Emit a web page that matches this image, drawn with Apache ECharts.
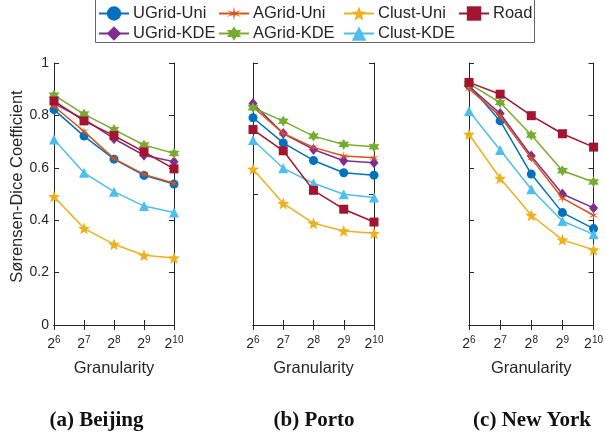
<!DOCTYPE html>
<html>
<head>
<meta charset="utf-8">
<script src="https://cdn.jsdelivr.net/npm/echarts@6/dist/echarts.min.js"></script>
<style>
html,body{margin:0;padding:0;background:#fff;}
#chart{width:606px;height:437px;}
</style>
</head>
<body>
<div id="chart"></div>
<script>
// ---------- data ----------
const categories = ['2^6', '2^7', '2^8', '2^9', '2^10'];
const seriesNames = ['UGrid-Uni', 'UGrid-KDE', 'AGrid-Uni', 'AGrid-KDE', 'Clust-Uni', 'Clust-KDE', 'Road'];
const panelTitles = ['(a) Beijing', '(b) Porto', '(c) New York'];
const yTickLabels = ['0', '0.2', '0.4', '0.6', '0.8', '1'];

// Beijing
const bjUGridUni = [0.822, 0.721, 0.633, 0.571, 0.538];
const bjUGridKDE = [0.845, 0.786, 0.711, 0.648, 0.623];
const bjAGridUni = [0.835, 0.739, 0.635, 0.575, 0.541];
const bjAGridKDE = [0.877, 0.805, 0.746, 0.687, 0.655];
const bjClustUni = [0.490, 0.369, 0.308, 0.266, 0.256];
const bjClustKDE = [0.708, 0.581, 0.509, 0.454, 0.429];
const bjRoad     = [0.855, 0.779, 0.723, 0.661, 0.596];

// Porto
const ptUGridUni = [0.791, 0.695, 0.628, 0.581, 0.572];
const ptUGridKDE = [0.845, 0.731, 0.670, 0.627, 0.619];
const ptAGridUni = [0.832, 0.731, 0.678, 0.645, 0.638];
const ptAGridKDE = [0.829, 0.778, 0.721, 0.689, 0.680];
const ptClustUni = [0.595, 0.464, 0.388, 0.359, 0.350];
const ptClustKDE = [0.706, 0.598, 0.541, 0.499, 0.487];
const ptRoad     = [0.746, 0.665, 0.514, 0.442, 0.393];

// New York
const nyUGridUni = [0.915, 0.779, 0.576, 0.429, 0.368];
const nyUGridKDE = [0.911, 0.807, 0.645, 0.500, 0.447];
const nyAGridUni = [0.902, 0.797, 0.636, 0.484, 0.419];
const nyAGridKDE = [0.921, 0.849, 0.725, 0.589, 0.546];
const nyClustUni = [0.728, 0.560, 0.419, 0.325, 0.287];
const nyClustKDE = [0.817, 0.668, 0.518, 0.397, 0.346];
const nyRoad     = [0.926, 0.881, 0.799, 0.730, 0.679];

const panelData = [
  [bjUGridUni, bjUGridKDE, bjAGridUni, bjAGridKDE, bjClustUni, bjClustKDE, bjRoad],
  [ptUGridUni, ptUGridKDE, ptAGridUni, ptAGridKDE, ptClustUni, ptClustKDE, ptRoad],
  [nyUGridUni, nyUGridKDE, nyAGridUni, nyAGridKDE, nyClustUni, nyClustKDE, nyRoad]
];

// ---------- styles ----------
function starPath(n, inner) {
  let d = '';
  for (let k = 0; k < 2 * n; k++) {
    const r = k % 2 === 0 ? 1 : inner;
    const a = -Math.PI / 2 + k * Math.PI / n;
    const x = (r * Math.cos(a)).toFixed(4), y = (r * Math.sin(a)).toFixed(4);
    d += (k === 0 ? 'M' : 'L') + x + ' ' + y + ' ';
  }
  return 'path://' + d + 'Z';
}
const colors = {
  'UGrid-Uni': '#0072BD', 'UGrid-KDE': '#7E2F8E', 'AGrid-Uni': '#D95319',
  'AGrid-KDE': '#77AC30', 'Clust-Uni': '#EDB120', 'Clust-KDE': '#4DBEEE', 'Road': '#A2142F'
};
const symbols = {
  'UGrid-Uni': ['circle', 9], 'UGrid-KDE': ['diamond', [9, 11]],
  'AGrid-Uni': [starPath(6, 0.22), 10], 'AGrid-KDE': [starPath(6, 0.55), 11],
  'Clust-Uni': [starPath(5, 0.42), 12], 'Clust-KDE': ['triangle', 10],
  'Road': ['rect', 9]
};
const grids = [
  { left: 54, top: 63, width: 120, height: 262 },
  { left: 253, top: 63, width: 121, height: 262 },
  { left: 469, top: 63, width: 126, height: 262 }
];
const yIntervals = [0.2, 0.5, 0.2];
const axisColor = '#262626';
const tickFont = 'Liberation Sans';

const xAxes = [], yAxes = [], series = [];
grids.forEach((g, i) => {
  const common = {
    gridIndex: i, type: 'category', data: categories, boundaryGap: false,
    axisLine: { lineStyle: { color: axisColor, width: 1 } },
    axisTick: { inside: true, length: 5, interval: 0, lineStyle: { color: axisColor } },
    splitLine: { show: false }
  };
  xAxes.push(Object.assign({}, common, {
    position: 'bottom',
    axisLabel: {
      margin: 10, interval: 0, hideOverlap: false,
      formatter: v => { const p = v.split('^'); return '{b|' + p[0] + '}{s|' + p[1] + '}'; },
      rich: {
        b: { fontSize: 14, fontFamily: tickFont, color: axisColor, lineHeight: 16, verticalAlign: 'bottom' },
        s: { fontSize: 10, fontFamily: tickFont, color: axisColor, lineHeight: 10, verticalAlign: 'top', padding: [0, 0, 10, 0] }
      }
    },
    name: 'Granularity', nameLocation: 'middle', nameGap: 33,
    nameTextStyle: { fontSize: 16.5, fontFamily: tickFont, color: axisColor }
  }));
  xAxes.push(Object.assign({}, common, { position: 'top', axisLabel: { show: false } }));
  const yCommon = {
    gridIndex: i, type: 'value', min: 0, max: 1, interval: yIntervals[i],
    axisLine: { show: true, lineStyle: { color: axisColor, width: 1 } },
    axisTick: { show: true, inside: true, length: 5, lineStyle: { color: axisColor } },
    splitLine: { show: false }
  };
  yAxes.push(Object.assign({}, yCommon, {
    position: 'left',
    axisLabel: {
      show: i === 0, margin: 5, fontSize: 14, fontFamily: tickFont, color: axisColor,
      formatter: v => yTickLabels[Math.round(v / 0.2)]
    },
    name: i === 0 ? 'Sørensen-Dice Coefficient' : '',
    nameLocation: 'middle', nameGap: 27,
    nameTextStyle: { fontSize: 16.5, fontFamily: tickFont, color: axisColor, padding: [0, 0, 0, 15] }
  }));
  yAxes.push(Object.assign({}, yCommon, { position: 'right', axisLabel: { show: false } }));

  seriesNames.forEach((name, k) => {
    series.push({
      name: name, type: 'line', xAxisIndex: 2 * i, yAxisIndex: 2 * i,
      data: panelData[i][k],
      symbol: symbols[name][0], symbolSize: symbols[name][1],
      lineStyle: { width: 1.5, color: colors[name] },
      itemStyle: { color: colors[name] },
      emphasis: { disabled: true },
      animation: false, z: 2 + k
    });
  });
});

// legend layout (two rows, four columns as in the reference)
const legendOrder = ['UGrid-Uni', 'AGrid-Uni', 'Clust-Uni', 'Road', 'UGrid-KDE', 'AGrid-KDE', 'Clust-KDE'];
const colX = [98, 218, 343, 458];
const rowY = [12, 32];
const legends = legendOrder.map((name, idx) => ({
  data: [name], selectedMode: false, padding: 0,
  left: colX[idx % 4], top: rowY[Math.floor(idx / 4)] - 7,
  itemWidth: 30, itemHeight: 18, itemGap: 0,
  textStyle: { fontSize: 16.5, fontFamily: tickFont, color: axisColor, padding: [0, 0, 0, -1] }
}));

const chart = echarts.init(document.getElementById('chart'), null, { renderer: 'canvas' });
chart.setOption({
  animation: false,
  backgroundColor: '#fff',
  grid: grids.map(g => Object.assign({ containLabel: false }, g)),
  xAxis: xAxes,
  yAxis: yAxes,
  legend: legends,
  series: series,
  graphic: [
    { type: 'rect', shape: { x: 95.5, y: -1.5, width: 439, height: 44 },
      style: { fill: 'none', stroke: '#666', lineWidth: 1 }, z: -1 }
  ].concat(panelTitles.map((t, i) => ({
    type: 'text', x: [96.5, 314, 532][i], y: 421,
    style: { text: t, font: 'bold 21px "Liberation Serif"', fill: '#111', align: 'center', verticalAlign: 'middle' }
  })))
});
</script>
</body>
</html>
